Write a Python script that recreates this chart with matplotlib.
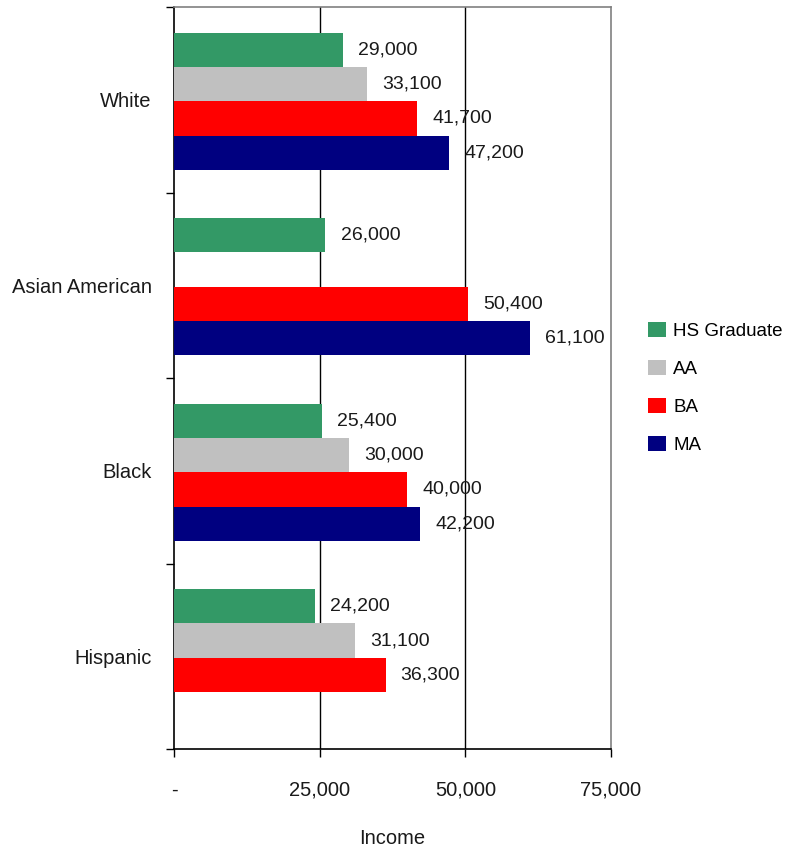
import matplotlib
matplotlib.use("Agg")
import matplotlib.pyplot as plt
import numpy as np
from matplotlib.patches import Patch

plt.rcParams['font.family'] = ['Liberation Sans', 'DejaVu Sans']

categories = ["White", "Asian American", "Black", "Hispanic"]
series_names = ["HS Graduate", "AA", "BA", "MA"]
hs_grad = [29000, 26000, 25400, 24200]
aa = [33100, None, 30000, 31100]
ba = [41700, 50400, 40000, 36300]
ma = [47200, 61100, 42200, None]
colors = ["#339966", "#C0C0C0", "#FF0000", "#000080"]
x_ticks = [0, 25000, 50000, 75000]
x_ticklabels = ["-", "25,000", "50,000", "75,000"]

series = [hs_grad, aa, ba, ma]

fig = plt.figure(figsize=(7.89, 8.48), dpi=100)
ax = fig.add_axes([174/789, 1-749/848, (611-174)/789, (749-7)/848])

h = 0.185
y = np.arange(len(categories))
for i, (vals, col) in enumerate(zip(series, colors)):
    off = (i - 1.5) * h + 0.008
    for j, v in enumerate(vals):
        if v is None:
            continue
        ax.barh(y[j] + off, v, height=h, color=col, edgecolor='none', zorder=3)
        ax.text(v + 2600, y[j] + off, f"{v:,}", va='center', ha='left',
                fontsize=14, color='#1a1a1a', zorder=4)

ax.set_xlim(0, 75000)
ax.set_ylim(3.5, -0.5)
ax.set_xticks(x_ticks)
ax.set_xticklabels(x_ticklabels, fontsize=14.5, color='#1a1a1a')
ax.set_yticks(y)
ax.set_yticklabels(categories, fontsize=14.5, color='#1a1a1a')
ax.set_yticks(np.arange(-0.5, 4.0, 1.0), minor=True)
ax.tick_params(axis='y', which='major', length=0, pad=16)
ax.tick_params(axis='y', which='minor', length=6, width=1, direction='out', color='black')
ax.tick_params(axis='x', which='major', length=6, width=1, direction='out', pad=17, color='black')

for xv in x_ticks[1:3]:
    ax.axvline(xv, color='black', lw=1, zorder=1)

ax.spines['left'].set_color('black')
ax.spines['bottom'].set_color('black')
ax.spines['top'].set_color('#808080')
ax.spines['right'].set_color('#808080')
for s in ax.spines.values():
    s.set_linewidth(1.2)

ax.set_xlabel("Income", fontsize=14.5, color='#1a1a1a', labelpad=21)

handles = [Patch(facecolor=c, edgecolor='none') for c in colors]
fig.legend(handles, series_names, loc='center left', bbox_to_anchor=(648/789, 1-388/848),
           frameon=False, fontsize=13.5, handlelength=0.95, handleheight=0.85,
           handletextpad=0.4, labelspacing=1.08, borderpad=0, borderaxespad=0)

fig.savefig("out.png", dpi=100)
